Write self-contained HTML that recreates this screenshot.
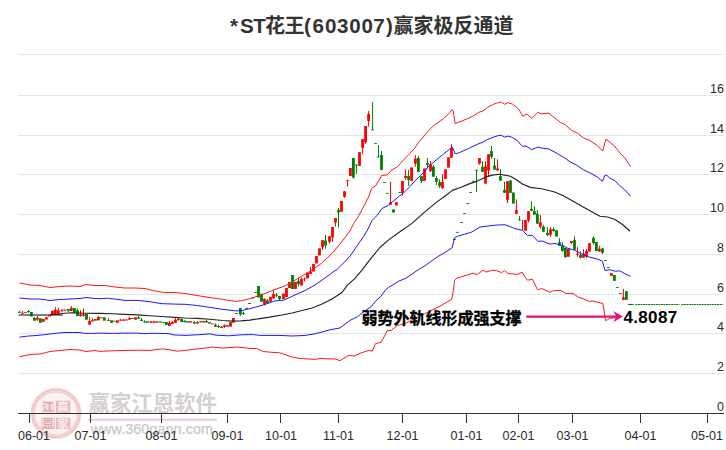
<!DOCTYPE html>
<html lang="zh-CN"><head><meta charset="utf-8"><title>*ST花王(603007)赢家极反通道</title>
<style>
html,body{margin:0;padding:0;background:#fff;}
body{width:726px;height:450px;overflow:hidden;}
svg{display:block;}
text{font-family:"Liberation Sans","Noto Sans CJK SC",sans-serif;}
.t{font-family:"Liberation Sans","Noto Sans CJK SC",sans-serif;font-weight:bold;}
</style></head><body>
<svg width="726" height="450" viewBox="0 0 726 450">
<rect width="726" height="450" fill="#fff"/>
<g stroke="#e6e6e6" stroke-width="1" shape-rendering="crispEdges">
<line x1="18" y1="54.5" x2="724" y2="54.5"/>
<line x1="18" y1="95.5" x2="724" y2="95.5"/>
<line x1="18" y1="135.5" x2="724" y2="135.5"/>
<line x1="18" y1="174.5" x2="724" y2="174.5"/>
<line x1="18" y1="214.5" x2="724" y2="214.5"/>
<line x1="18" y1="254.5" x2="724" y2="254.5"/>
<line x1="18" y1="294.5" x2="724" y2="294.5"/>
<line x1="18" y1="333.5" x2="724" y2="333.5"/>
<line x1="18" y1="373.5" x2="724" y2="373.5"/>
</g>
<g id="wm">
<circle cx="56" cy="413.4" r="21.2" fill="#fcf2f2"/>
<circle cx="56" cy="413.4" r="23.1" fill="none" stroke="#eec8c8" stroke-width="4.2"/>
<circle cx="56" cy="413.4" r="25.3" fill="none" stroke="#f6e2e2" stroke-width="0.8"/>
<circle cx="56" cy="413.4" r="22.4" fill="none" stroke="#f8e9e9" stroke-width="0.7"/>
<rect x="41.4" y="401.2" width="13.3" height="11.6" fill="#f7e0e0"/>
<rect x="56" y="400.8" width="14.3" height="12" fill="#e9b9b9"/>
<rect x="41.9" y="418.2" width="12.4" height="10.4" fill="#faeaea" stroke="#e9b9b9" stroke-width="1"/>
<rect x="56" y="417.7" width="14.3" height="11.3" fill="#e9b9b9"/>
<g font-size="11.5" font-weight="bold" text-anchor="middle">
<text x="48" y="411.4" fill="#e3a6a6">江</text>
<text x="63.1" y="411.2" fill="#fbecec">赢</text>
<text x="48" y="427.7" fill="#e3a6a6">恩</text>
<text x="63.1" y="427.6" fill="#fbecec">家</text>
</g>
<text x="88.6" y="410.6" font-size="21.4" font-weight="bold" fill="#d6cfcf">赢家江恩软件</text>
<line x1="88" y1="419.7" x2="217" y2="419.7" stroke="#e9d6d6" stroke-width="2.4"/>
<text x="90.7" y="433.8" font-size="14.3" fill="#c8c8c8" stroke="#c8c8c8" stroke-width="0.25" textLength="122.2" lengthAdjust="spacing">www.360gann.com</text>
</g>

<line x1="19.4" y1="315" x2="62" y2="315" stroke="#808080" stroke-width="2" stroke-linecap="round"/>
<g>
<rect x="18.9" y="310.8" width="1" height="2" fill="#007f00"/>
<rect x="18" y="311.8" width="2.8" height="1" fill="#007f00"/>
<rect x="22" y="311" width="1" height="2.7" fill="#ff0000"/>
<rect x="21.1" y="312.8" width="2.8" height="0.9" fill="#ff0000"/>
<rect x="24.1" y="312" width="2.8" height="0.9" fill="#ff0000"/>
<rect x="27.9" y="310" width="1" height="2.8" fill="#007f00"/>
<rect x="27" y="311" width="2.8" height="1" fill="#007f00"/>
<rect x="30" y="312" width="2.8" height="4.5" fill="#007f00"/>
<rect x="33.9" y="317" width="1" height="3.6" fill="#007f00"/>
<rect x="33" y="318" width="2.8" height="2.6" fill="#007f00"/>
<rect x="36.9" y="316" width="1" height="5" fill="#ff0000"/>
<rect x="36" y="317.8" width="2.8" height="1.8" fill="#ff0000"/>
<rect x="39" y="318.2" width="2.8" height="4.6" fill="#007f00"/>
<rect x="42" y="319" width="2.8" height="2.8" fill="#ff0000"/>
<rect x="45" y="317.2" width="2.8" height="2.4" fill="#ff0000"/>
<rect x="48" y="315" width="2.8" height="1.5" fill="#ff0000"/>
<rect x="51" y="310.7" width="2.8" height="4" fill="#ff0000"/>
<rect x="54.8" y="307" width="1" height="7.7" fill="#ff0000"/>
<rect x="53.9" y="309.7" width="2.8" height="5" fill="#ff0000"/>
<rect x="57.8" y="307.8" width="1" height="6.6" fill="#ff0000"/>
<rect x="56.9" y="310.3" width="2.8" height="4.1" fill="#ff0000"/>
<rect x="61.5" y="309" width="1" height="3.2" fill="#ff0000"/>
<rect x="60.6" y="310.3" width="2.8" height="0.9" fill="#ff0000"/>
<rect x="63.6" y="309.5" width="2.8" height="1.2" fill="#ff0000"/>
<rect x="67.8" y="309" width="1" height="3" fill="#007f00"/>
<rect x="66.9" y="309" width="2.8" height="1.7" fill="#007f00"/>
<rect x="70.8" y="306" width="1" height="5" fill="#ff0000"/>
<rect x="69.9" y="307.8" width="2.8" height="3.2" fill="#ff0000"/>
<rect x="73" y="308" width="2.8" height="4.8" fill="#007f00"/>
<rect x="77" y="308.5" width="1" height="7.5" fill="#007f00"/>
<rect x="76.1" y="310.3" width="2.8" height="5.7" fill="#007f00"/>
<rect x="80" y="310.3" width="1" height="6.2" fill="#ff0000"/>
<rect x="79.1" y="314.4" width="2.8" height="1.6" fill="#ff0000"/>
<rect x="83" y="308.5" width="1" height="8" fill="#ff0000"/>
<rect x="82.1" y="314.4" width="2.8" height="1.6" fill="#ff0000"/>
<rect x="85.1" y="314" width="2.8" height="5.7" fill="#007f00"/>
<rect x="89" y="317.2" width="1" height="7.4" fill="#ff0000"/>
<rect x="88.1" y="321" width="2.8" height="3.6" fill="#ff0000"/>
<rect x="92" y="318.2" width="1" height="3.3" fill="#ff0000"/>
<rect x="91.1" y="320.3" width="2.8" height="1.2" fill="#ff0000"/>
<rect x="94" y="319" width="2.8" height="1.7" fill="#007f00"/>
<rect x="97.9" y="316" width="1" height="4.3" fill="#ff0000"/>
<rect x="97" y="317" width="2.8" height="3.3" fill="#ff0000"/>
<rect x="100" y="317.4" width="2.8" height="1" fill="#007f00"/>
<rect x="103" y="317.4" width="2.8" height="3.3" fill="#007f00"/>
<rect x="108" y="318.2" width="1" height="2.6" fill="#ff0000"/>
<rect x="107.1" y="320" width="2.8" height="0.9" fill="#ff0000"/>
<rect x="110.1" y="320.3" width="2.8" height="2.5" fill="#007f00"/>
<rect x="113" y="320.7" width="2.8" height="0.9" fill="#007f00"/>
<rect x="116" y="320.3" width="2.8" height="2.5" fill="#ff0000"/>
<rect x="120" y="319" width="1" height="1.7" fill="#ff0000"/>
<rect x="119.1" y="319.6" width="2.8" height="1.1" fill="#ff0000"/>
<rect x="123" y="319" width="1" height="1.7" fill="#ff0000"/>
<rect x="122.1" y="319.6" width="2.8" height="1.1" fill="#ff0000"/>
<rect x="125" y="319.4" width="2.8" height="1.1" fill="#ff0000"/>
<rect x="129" y="317" width="1" height="2.7" fill="#ff0000"/>
<rect x="128.1" y="318.2" width="2.8" height="1.5" fill="#ff0000"/>
<rect x="131.1" y="318" width="2.8" height="1" fill="#007f00"/>
<rect x="134.1" y="317.2" width="2.8" height="2.5" fill="#ff0000"/>
<rect x="138" y="316" width="1" height="2.7" fill="#007f00"/>
<rect x="137.1" y="317.4" width="2.8" height="1.3" fill="#007f00"/>
<rect x="141" y="318.2" width="1" height="2.8" fill="#007f00"/>
<rect x="140.1" y="319.7" width="2.8" height="1.3" fill="#007f00"/>
<rect x="144" y="320.3" width="1" height="2.5" fill="#007f00"/>
<rect x="143.1" y="321.5" width="2.8" height="0.9" fill="#007f00"/>
<rect x="146" y="321.2" width="2.8" height="1.6" fill="#007f00"/>
<rect x="150.5" y="321" width="1" height="1.8" fill="#ff0000"/>
<rect x="149.6" y="321.5" width="2.8" height="1.3" fill="#ff0000"/>
<rect x="153.5" y="321" width="1" height="1.8" fill="#ff0000"/>
<rect x="152.6" y="321.5" width="2.8" height="1.3" fill="#ff0000"/>
<rect x="155.6" y="321.3" width="2.8" height="1.5" fill="#ff0000"/>
<rect x="158.9" y="321.3" width="2.8" height="1.2" fill="#007f00"/>
<rect x="161.9" y="322" width="2.8" height="0.9" fill="#007f00"/>
<rect x="165" y="322" width="2.8" height="2.9" fill="#007f00"/>
<rect x="168.9" y="321" width="1" height="4.9" fill="#ff0000"/>
<rect x="168" y="322.8" width="2.8" height="3.1" fill="#ff0000"/>
<rect x="171.9" y="321" width="1" height="3" fill="#ff0000"/>
<rect x="171" y="322.2" width="2.8" height="1.8" fill="#ff0000"/>
<rect x="175" y="317.2" width="1" height="5.6" fill="#ff0000"/>
<rect x="174.1" y="319.7" width="2.8" height="3.1" fill="#ff0000"/>
<rect x="178" y="317.4" width="1" height="2.9" fill="#ff0000"/>
<rect x="177.1" y="318.7" width="2.8" height="1.6" fill="#ff0000"/>
<rect x="180.2" y="319" width="2.8" height="3" fill="#007f00"/>
<rect x="184.1" y="320.3" width="1" height="1.9" fill="#007f00"/>
<rect x="183.2" y="320.8" width="2.8" height="1.4" fill="#007f00"/>
<rect x="186.1" y="321.2" width="2.8" height="1.4" fill="#007f00"/>
<rect x="189.1" y="321.1" width="2.8" height="1.5" fill="#ff0000"/>
<rect x="193.8" y="320.9" width="1" height="2.7" fill="#007f00"/>
<rect x="192.9" y="322" width="2.8" height="1.6" fill="#007f00"/>
<rect x="197" y="321.1" width="1" height="2.5" fill="#ff0000"/>
<rect x="196.1" y="322.2" width="2.8" height="1.4" fill="#ff0000"/>
<rect x="199.2" y="321.1" width="2.8" height="1.3" fill="#007f00"/>
<rect x="202.3" y="321.1" width="2.8" height="1.5" fill="#ff0000"/>
<rect x="206" y="319.9" width="1" height="2.5" fill="#007f00"/>
<rect x="205.1" y="321" width="2.8" height="1.4" fill="#007f00"/>
<rect x="208.1" y="322.1" width="2.8" height="1.5" fill="#007f00"/>
<rect x="211" y="323.4" width="2.8" height="0.9" fill="#ff0000"/>
<rect x="214.9" y="323.4" width="1" height="3.3" fill="#007f00"/>
<rect x="214" y="324.8" width="2.8" height="1.9" fill="#007f00"/>
<rect x="217.9" y="324.8" width="1" height="3.2" fill="#007f00"/>
<rect x="217" y="326" width="2.8" height="1" fill="#007f00"/>
<rect x="220.9" y="326" width="1" height="2" fill="#ff0000"/>
<rect x="220" y="326.7" width="2.8" height="1.3" fill="#ff0000"/>
<rect x="223.9" y="324.2" width="1" height="3.8" fill="#ff0000"/>
<rect x="223" y="325.5" width="2.8" height="1.5" fill="#ff0000"/>
<rect x="225.9" y="325.1" width="2.8" height="1.6" fill="#007f00"/>
<rect x="229.1" y="322.1" width="2.8" height="4.6" fill="#ff0000"/>
<rect x="232" y="318" width="2.8" height="4.7" fill="#ff0000"/>
<rect x="235" y="313" width="2.8" height="0.9" fill="#007f00"/>
<rect x="239.9" y="308" width="1" height="7.9" fill="#007f00"/>
<rect x="239" y="308" width="2.8" height="6.3" fill="#007f00"/>
<rect x="242.9" y="311.8" width="1" height="3.1" fill="#007f00"/>
<rect x="242" y="313" width="2.8" height="0.9" fill="#007f00"/>
<rect x="245.2" y="307.8" width="2.8" height="1.1" fill="#007f00"/>
<rect x="248.1" y="303" width="2.8" height="1" fill="#007f00"/>
<rect x="251.1" y="297.7" width="2.8" height="0.9" fill="#007f00"/>
<rect x="254.1" y="292" width="2.8" height="0.9" fill="#007f00"/>
<rect x="257.1" y="286" width="2.8" height="11.5" fill="#007f00"/>
<rect x="260.1" y="293.7" width="2.8" height="8.1" fill="#007f00"/>
<rect x="264" y="298.7" width="1" height="6.8" fill="#ff0000"/>
<rect x="263.1" y="298.7" width="2.8" height="5.6" fill="#ff0000"/>
<rect x="266.9" y="299" width="1" height="4" fill="#007f00"/>
<rect x="266" y="300.5" width="2.8" height="2.5" fill="#007f00"/>
<rect x="269.1" y="296.8" width="2.8" height="5" fill="#ff0000"/>
<rect x="273" y="290.3" width="1" height="8.2" fill="#ff0000"/>
<rect x="272.1" y="294" width="2.8" height="4.5" fill="#ff0000"/>
<rect x="276" y="293" width="1" height="4" fill="#007f00"/>
<rect x="275.1" y="294.7" width="2.8" height="0.9" fill="#007f00"/>
<rect x="279" y="296" width="1" height="4" fill="#007f00"/>
<rect x="278.1" y="296" width="2.8" height="3" fill="#007f00"/>
<rect x="282.1" y="293.5" width="2.8" height="5.5" fill="#ff0000"/>
<rect x="285.1" y="288" width="2.8" height="9" fill="#ff0000"/>
<rect x="288.1" y="282" width="2.8" height="6" fill="#ff0000"/>
<rect x="291.1" y="275" width="2.8" height="14" fill="#007f00"/>
<rect x="294.1" y="282" width="2.8" height="7" fill="#ff0000"/>
<rect x="298" y="277.8" width="1" height="8.7" fill="#007f00"/>
<rect x="297.1" y="280.8" width="2.8" height="3.2" fill="#007f00"/>
<rect x="301" y="277.5" width="1" height="8" fill="#ff0000"/>
<rect x="300.1" y="279" width="2.8" height="6.5" fill="#ff0000"/>
<rect x="304" y="277.5" width="1" height="4" fill="#ff0000"/>
<rect x="303.7" y="278" width="1.6" height="2" fill="#ff0000"/>
<rect x="306.1" y="272.5" width="2.8" height="6" fill="#ff0000"/>
<rect x="310" y="267" width="1" height="7" fill="#ff0000"/>
<rect x="309.1" y="271.5" width="2.8" height="2.5" fill="#ff0000"/>
<rect x="312.1" y="264" width="2.8" height="7.5" fill="#ff0000"/>
<rect x="315.1" y="256" width="2.8" height="7.5" fill="#ff0000"/>
<rect x="318.1" y="248.3" width="2.8" height="7.2" fill="#ff0000"/>
<rect x="322" y="240.2" width="1" height="9.5" fill="#ff0000"/>
<rect x="321.1" y="240.2" width="2.8" height="7.2" fill="#ff0000"/>
<rect x="325" y="235" width="1" height="13.7" fill="#007f00"/>
<rect x="324.1" y="240.6" width="2.8" height="5" fill="#007f00"/>
<rect x="329" y="236.2" width="1" height="7.2" fill="#ff0000"/>
<rect x="328.1" y="236.2" width="2.8" height="5.6" fill="#ff0000"/>
<rect x="332" y="227" width="1" height="14.8" fill="#ff0000"/>
<rect x="331.1" y="227" width="2.8" height="10.5" fill="#ff0000"/>
<rect x="335" y="218" width="1" height="8.5" fill="#ff0000"/>
<rect x="334.1" y="218" width="2.8" height="4.5" fill="#ff0000"/>
<rect x="338" y="208" width="1" height="19.5" fill="#007f00"/>
<rect x="337.1" y="210" width="2.8" height="2.5" fill="#007f00"/>
<rect x="340.1" y="201" width="2.8" height="10.8" fill="#ff0000"/>
<rect x="344" y="191.2" width="1" height="6.6" fill="#ff0000"/>
<rect x="343.1" y="191.2" width="2.8" height="5.6" fill="#ff0000"/>
<rect x="347" y="179.9" width="1" height="6.8" fill="#ff0000"/>
<rect x="346.1" y="179.9" width="2.8" height="0.9" fill="#ff0000"/>
<rect x="349" y="168" width="2.8" height="8.1" fill="#ff0000"/>
<rect x="352.9" y="158" width="1" height="20.8" fill="#007f00"/>
<rect x="352" y="158" width="2.8" height="19.4" fill="#007f00"/>
<rect x="355.9" y="164.6" width="1" height="9.3" fill="#007f00"/>
<rect x="355" y="164.6" width="2.8" height="0.9" fill="#007f00"/>
<rect x="358.1" y="152.1" width="2.8" height="13.8" fill="#ff0000"/>
<rect x="362.1" y="139.1" width="1" height="15.4" fill="#ff0000"/>
<rect x="361.2" y="139.1" width="2.8" height="8.7" fill="#ff0000"/>
<rect x="365.1" y="126" width="1" height="17.8" fill="#ff0000"/>
<rect x="364.2" y="126" width="2.8" height="16.3" fill="#ff0000"/>
<rect x="368.1" y="111" width="1" height="15.6" fill="#ff0000"/>
<rect x="367.2" y="114" width="2.8" height="7" fill="#ff0000"/>
<rect x="372.1" y="102.1" width="1" height="28" fill="#007f00"/>
<rect x="371.2" y="129.3" width="2.8" height="0.9" fill="#007f00"/>
<rect x="374.1" y="143" width="2.8" height="0.9" fill="#007f00"/>
<rect x="378" y="145" width="1" height="12.4" fill="#007f00"/>
<rect x="376.8" y="156.6" width="2.2" height="0.9" fill="#007f00"/>
<rect x="381" y="151" width="1" height="18.9" fill="#007f00"/>
<rect x="380.1" y="155" width="2.8" height="14.9" fill="#007f00"/>
<rect x="383" y="182.1" width="2.8" height="0.9" fill="#007f00"/>
<rect x="386" y="192.9" width="2.8" height="0.9" fill="#007f00"/>
<rect x="390" y="182" width="1" height="22.7" fill="#ff0000"/>
<rect x="389.1" y="202.4" width="2.8" height="2.3" fill="#ff0000"/>
<rect x="392.1" y="209.3" width="2.8" height="3.3" fill="#007f00"/>
<rect x="395" y="202.2" width="2.8" height="3.3" fill="#ff0000"/>
<rect x="398.2" y="192.1" width="2.8" height="0.9" fill="#007f00"/>
<rect x="402" y="181.1" width="1" height="14.5" fill="#ff0000"/>
<rect x="401.1" y="181.1" width="2.8" height="11.9" fill="#ff0000"/>
<rect x="405.1" y="169.3" width="1" height="10.6" fill="#ff0000"/>
<rect x="404.2" y="175.9" width="2.8" height="2.1" fill="#ff0000"/>
<rect x="408.1" y="169.9" width="1" height="16.1" fill="#007f00"/>
<rect x="407.2" y="176.1" width="2.8" height="3.8" fill="#007f00"/>
<rect x="410.2" y="167.4" width="2.8" height="13.5" fill="#ff0000"/>
<rect x="414.9" y="155" width="1" height="11.8" fill="#ff0000"/>
<rect x="414" y="158.7" width="2.8" height="5" fill="#ff0000"/>
<rect x="417.9" y="156" width="1" height="15.8" fill="#007f00"/>
<rect x="417" y="158" width="2.8" height="13.8" fill="#007f00"/>
<rect x="421" y="176.1" width="1" height="6.9" fill="#007f00"/>
<rect x="420.1" y="176.1" width="2.8" height="5" fill="#007f00"/>
<rect x="423.1" y="168.4" width="2.8" height="12.5" fill="#ff0000"/>
<rect x="427" y="158" width="1" height="10.6" fill="#007f00"/>
<rect x="426.1" y="163" width="2.8" height="1.9" fill="#007f00"/>
<rect x="430" y="161.2" width="1" height="10.6" fill="#ff0000"/>
<rect x="429.1" y="164.3" width="2.8" height="6.8" fill="#ff0000"/>
<rect x="432.9" y="164.9" width="1" height="11.8" fill="#007f00"/>
<rect x="432" y="166.8" width="2.8" height="9.9" fill="#007f00"/>
<rect x="435.9" y="176.1" width="1" height="8.7" fill="#007f00"/>
<rect x="435" y="178" width="2.8" height="3.7" fill="#007f00"/>
<rect x="439.1" y="179.2" width="1" height="8.8" fill="#007f00"/>
<rect x="438.2" y="182.3" width="2.8" height="3.8" fill="#007f00"/>
<rect x="442" y="174.2" width="1" height="14.8" fill="#ff0000"/>
<rect x="441.1" y="181.7" width="2.8" height="6.3" fill="#ff0000"/>
<rect x="444.1" y="169.3" width="2.8" height="9.6" fill="#ff0000"/>
<rect x="447.1" y="157.2" width="2.8" height="10.4" fill="#ff0000"/>
<rect x="451" y="144.1" width="1" height="13.6" fill="#ff0000"/>
<rect x="450.1" y="148.1" width="2.8" height="9.6" fill="#ff0000"/>
<rect x="453" y="238.8" width="2.8" height="1.2" fill="#007f00"/>
<rect x="456.1" y="231.9" width="2.8" height="0.9" fill="#007f00"/>
<rect x="460.1" y="222" width="2.8" height="0.9" fill="#007f00"/>
<rect x="463.2" y="213" width="2.8" height="0.9" fill="#007f00"/>
<rect x="466.3" y="203" width="2.8" height="0.9" fill="#007f00"/>
<rect x="469.2" y="192.1" width="2.8" height="0.9" fill="#007f00"/>
<rect x="472.1" y="180.8" width="2.8" height="0.9" fill="#007f00"/>
<rect x="476" y="169.8" width="1" height="21.9" fill="#007f00"/>
<rect x="475.1" y="169.8" width="2.8" height="0.9" fill="#007f00"/>
<rect x="479" y="158" width="1" height="6.7" fill="#ff0000"/>
<rect x="478.1" y="158" width="2.8" height="5.7" fill="#ff0000"/>
<rect x="482" y="161.2" width="1" height="10.6" fill="#007f00"/>
<rect x="481.1" y="166.8" width="2.8" height="5" fill="#007f00"/>
<rect x="485" y="161.2" width="1" height="22.4" fill="#ff0000"/>
<rect x="484.1" y="166.2" width="2.8" height="17.4" fill="#ff0000"/>
<rect x="488" y="154.3" width="1" height="21.8" fill="#ff0000"/>
<rect x="487.1" y="154.3" width="2.8" height="16.2" fill="#ff0000"/>
<rect x="491" y="146" width="1" height="12.7" fill="#007f00"/>
<rect x="490.1" y="151.2" width="2.8" height="5.6" fill="#007f00"/>
<rect x="494" y="158" width="1" height="11.6" fill="#007f00"/>
<rect x="493.1" y="165.5" width="2.8" height="4.1" fill="#007f00"/>
<rect x="497" y="159.3" width="1" height="11.6" fill="#ff0000"/>
<rect x="496.1" y="168.4" width="2.8" height="2" fill="#ff0000"/>
<rect x="500" y="169.3" width="1" height="11.4" fill="#007f00"/>
<rect x="499.1" y="176.1" width="2.8" height="4.6" fill="#007f00"/>
<rect x="504" y="181.8" width="1" height="11" fill="#007f00"/>
<rect x="503.1" y="189.9" width="2.8" height="2.9" fill="#007f00"/>
<rect x="507" y="181.2" width="1" height="21.8" fill="#ff0000"/>
<rect x="506.1" y="181.2" width="2.8" height="18.7" fill="#ff0000"/>
<rect x="510" y="180.2" width="1" height="12.6" fill="#007f00"/>
<rect x="509.1" y="180.6" width="2.8" height="12.2" fill="#007f00"/>
<rect x="512" y="192.4" width="2.8" height="11.2" fill="#007f00"/>
<rect x="515.9" y="199.3" width="1" height="14.5" fill="#ff0000"/>
<rect x="515" y="210.1" width="2.8" height="3.7" fill="#ff0000"/>
<rect x="519" y="216.1" width="1" height="4.4" fill="#007f00"/>
<rect x="518.1" y="219.6" width="2.8" height="0.9" fill="#007f00"/>
<rect x="522" y="219.8" width="1" height="10.6" fill="#ff0000"/>
<rect x="524.1" y="220" width="2.8" height="10.8" fill="#ff0000"/>
<rect x="528" y="211.1" width="1" height="11.2" fill="#ff0000"/>
<rect x="527.1" y="211.1" width="2.8" height="9.5" fill="#ff0000"/>
<rect x="530.9" y="201.1" width="1" height="9.7" fill="#007f00"/>
<rect x="530" y="209" width="2.8" height="1.8" fill="#007f00"/>
<rect x="533.9" y="206.1" width="1" height="8.6" fill="#007f00"/>
<rect x="533" y="211.1" width="2.8" height="3.6" fill="#007f00"/>
<rect x="536.9" y="210" width="1" height="13.7" fill="#007f00"/>
<rect x="536" y="213.8" width="2.8" height="9.9" fill="#007f00"/>
<rect x="539.9" y="215" width="1" height="13.5" fill="#ff0000"/>
<rect x="539" y="222.3" width="2.8" height="4.4" fill="#ff0000"/>
<rect x="542.9" y="224.8" width="1" height="6.9" fill="#007f00"/>
<rect x="542" y="226.7" width="2.8" height="5" fill="#007f00"/>
<rect x="546.9" y="227.3" width="1" height="8.7" fill="#007f00"/>
<rect x="546" y="232.9" width="2.8" height="2.2" fill="#007f00"/>
<rect x="550" y="227.3" width="1" height="9.3" fill="#ff0000"/>
<rect x="549.1" y="229.2" width="2.8" height="5.6" fill="#ff0000"/>
<rect x="553" y="227.3" width="1" height="4.4" fill="#007f00"/>
<rect x="552.1" y="229.2" width="2.8" height="1.8" fill="#007f00"/>
<rect x="555.1" y="230.2" width="2.8" height="6.4" fill="#007f00"/>
<rect x="559" y="238.3" width="1" height="7.3" fill="#007f00"/>
<rect x="558.1" y="242.2" width="2.8" height="3.4" fill="#007f00"/>
<rect x="561.9" y="242.2" width="1" height="9.6" fill="#007f00"/>
<rect x="561" y="245.4" width="2.8" height="5.6" fill="#007f00"/>
<rect x="564.9" y="247.9" width="1" height="9.9" fill="#007f00"/>
<rect x="564" y="247.9" width="2.8" height="9.3" fill="#007f00"/>
<rect x="567" y="248.8" width="2.8" height="8" fill="#ff0000"/>
<rect x="570.9" y="241" width="1" height="3.1" fill="#ff0000"/>
<rect x="570" y="241" width="2.8" height="2" fill="#ff0000"/>
<rect x="574" y="236.4" width="1" height="13.3" fill="#007f00"/>
<rect x="573.1" y="240.1" width="2.8" height="9.6" fill="#007f00"/>
<rect x="577" y="247.2" width="1" height="9.6" fill="#ff0000"/>
<rect x="576.1" y="253.7" width="2.8" height="1.1" fill="#ff0000"/>
<rect x="580" y="251.3" width="1" height="7.1" fill="#007f00"/>
<rect x="579.1" y="255.1" width="2.8" height="2.7" fill="#007f00"/>
<rect x="583" y="249.1" width="1" height="8.5" fill="#ff0000"/>
<rect x="582.1" y="253.5" width="2.8" height="4.1" fill="#ff0000"/>
<rect x="586" y="249.1" width="1" height="8.7" fill="#ff0000"/>
<rect x="585.1" y="251" width="2.8" height="5.6" fill="#ff0000"/>
<rect x="588.1" y="243.1" width="2.8" height="8.5" fill="#ff0000"/>
<rect x="593" y="236.4" width="1" height="8.3" fill="#007f00"/>
<rect x="592.1" y="237.9" width="2.8" height="5.2" fill="#007f00"/>
<rect x="595" y="241.9" width="2.8" height="9.1" fill="#007f00"/>
<rect x="598.9" y="246" width="1" height="5.6" fill="#ff0000"/>
<rect x="598" y="248.8" width="2.8" height="2.8" fill="#ff0000"/>
<rect x="602" y="247.6" width="1" height="6.2" fill="#007f00"/>
<rect x="601.1" y="248.5" width="2.8" height="4.3" fill="#007f00"/>
<rect x="604.2" y="260" width="2.8" height="0.9" fill="#007f00"/>
<rect x="607" y="267.1" width="2.8" height="0.9" fill="#007f00"/>
<rect x="610" y="273.1" width="2.8" height="2.8" fill="#ff0000"/>
<rect x="613" y="274.9" width="2.8" height="6" fill="#007f00"/>
<rect x="616" y="287.1" width="2.8" height="0.9" fill="#007f00"/>
<rect x="619" y="293.1" width="2.8" height="0.9" fill="#007f00"/>
<rect x="622.9" y="288.9" width="1" height="10.9" fill="#ff0000"/>
<rect x="622" y="297.3" width="2.8" height="2.5" fill="#ff0000"/>
<rect x="625" y="291.1" width="2.8" height="8.7" fill="#007f00"/>
</g>
<polyline points="19.5,283 30,285 40,285.5 50,287.5 60,286.5 70,286 80,286.5 86,284.5 95,285.5 105,285.5 115,287 125,288 135,288 145,288.5 155,291 165,292.5 175,292.5 185,293.5 197.5,295.6 209.9,297.5 222.4,299.3 229.8,300.6 236.1,301.4 242.3,300.6 249.8,298.7 257.2,296.2 264.7,293.7 275,289.4 285,286 292.5,281.7 300,277.2 307.4,272.8 314.9,268 321.1,263.6 327.3,258 333.5,251.8 338.5,245.6 344.8,238 350.5,230 353.5,223.5 358,217 362,209.5 366,202 369,196 371,190 372.5,187.5 375.5,186 378,181.7 381.7,175.5 387.3,174.9 391,170.5 397.3,166.8 403.5,159.9 409.7,153.7 414.9,147.9 418.6,142.3 426.1,133.6 432.3,126.8 434.8,124.7 443.5,118.7 449.8,112.5 452,109.8 453.1,110.6 455.2,123.4 459.9,121.8 467.4,118.7 473.6,115.9 478.6,112.4 483,110.9 487.3,107.5 493.5,104.3 498.5,102.5 501.3,102.1 504.8,104.3 507.9,102.7 512.2,104 517.2,107.5 520.3,111.8 522.8,116.4 525.9,114.3 527.5,114.7 531.8,118.4 538.1,112.1 541.2,113.9 548.7,113.1 554.9,118 560.5,122.4 565.5,124.9 571.7,130.5 577.3,133 583.5,138 589.8,140.5 597.2,145.4 602.6,151.1 605.9,139.2 610.9,143 614,145.6 617.2,149.4 620.4,153.7 624.7,157.5 630.7,166.8" fill="none" stroke="#ff1818" stroke-width="1" stroke-linejoin="round"/>
<polyline points="19.5,356.75 30,354.5 40,354 50,351.5 60,350.5 70,349.5 80,350 86,351.5 95,350.5 100,351.4 112.5,350.8 124.9,350.5 137.4,350.2 149.8,350.5 156,349.5 163.5,348.9 169.7,349.8 177.2,351.2 184.7,350.5 192,349.5 202,348.5 212,347 222,348 232,347.5 237,347 247,348 250,348.5 256.6,348.5 263.2,351.5 271.5,352.3 279.8,352.8 291.3,356.8 299.6,358.4 314.5,359.4 321.1,358.4 327.7,358.9 334.3,358.9 340.1,360.6 349.2,355.1 354.1,356.1 360.7,353.1 368.7,350.4 372.4,351.1 375.5,343.6 381.2,342.3 387.4,330.5 391.1,330.5 397.3,325.5 404.8,323.7 409.8,321.2 417.3,317.4 424.7,313.7 432.2,310 440,306.2 446.2,302.5 451.8,299.4 453.4,290.6 454.7,280.1 456.8,278.2 464.9,275.7 473,273.2 477.4,274.5 483,270.1 486.1,272 492.3,270.3 496.7,270.7 501.6,272.6 504.5,270.5 507.9,273.6 512.2,273.8 517.2,274.5 522.2,272.2 525.3,277.5 527.5,280.2 532.5,279.2 537.5,289.8 541.8,288.5 549.9,292.3 553.6,290.7 560.5,290.4 566.1,293.5 572.9,293.3 578.5,297.3 583.5,298.9 589.1,301.4 592.9,301 597.2,302.2 602.8,303.5 604.1,310.3 605.3,320.3 607.2,320 609.7,318.4 615,317.8 619,316.8" fill="none" stroke="#ff1818" stroke-width="1" stroke-linejoin="round"/>
<polyline points="19.5,298 30,299 40,299 50,300.5 60,299.5 70,299 80,298.5 86,297.5 95,298.5 100,298.7 107.5,298.2 115,299.1 125,300.4 137.4,300.4 149.8,301.6 156,302.8 162.3,303.7 174.7,304.1 185,304.3 197.5,305.5 209.9,307.4 222.4,309.3 234.8,310.8 241,310.8 247.3,309.3 254.7,307.4 262.2,305.2 269.7,302.8 275,300.9 284,300 295,295 305,290.5 315,285 325,278 333,272 337.3,269.2 344.8,261.8 351,254.9 357.2,245.6 363.4,236.8 367.5,230 372,220.5 377,215.5 382,208.5 386,206.5 388.5,205.3 393,201.2 399.5,196.1 405.4,191.2 409.7,186.7 419.7,176.1 425,171.1 427.5,167.4 434.9,161.2 442.4,154.9 449.3,149.3 452.6,147.5 453.9,150.6 455.2,153.9 459.5,152.6 463,151 468.6,148.5 476.1,144.8 483,142.1 487.3,139.6 493.5,137.1 498.5,135.5 501.3,135.3 504.8,137.1 507.9,136.1 512.2,137.3 517.2,140.5 520.3,144.2 522.8,146.3 525.9,146.1 531.8,149.6 538.1,147 542.5,148.25 548.75,148.9 557.5,153.7 564.9,158.1 570.5,162.2 576.2,164.9 583.6,169.9 591.1,173.4 597.9,177.4 602.3,181.4 604.8,175.5 606.7,175.3 609.8,178 614.8,180.5 619.7,185.5 624.7,189.8 630.7,196.3" fill="none" stroke="#1818ff" stroke-width="1" stroke-linejoin="round"/>
<polyline points="19.5,337.1 27.5,336.1 35,335.6 42.4,334.9 50,334 57.4,333.1 65,332.5 72.4,332.5 80,332.5 84.7,333.4 92.2,333.4 100,333.1 112.5,333.4 124.9,333.1 137.4,333.1 143.6,333.7 149.8,333.4 159.8,333.4 168.5,333.7 174.7,335 181,335.2 185,335.4 197.5,334.8 209.9,333.9 216.1,335.2 228.6,335.8 241,334.8 253.5,334.6 259.7,335.4 275,335.4 282,335.5 292,336 302,335.6 305,335.4 315,333.8 322,332 329.9,329.8 339.9,328 349.8,320.5 357.3,316.8 363.5,311.8 371,306.8 376,300.6 381,296.2 386,289.4 388.7,287.4 398.7,281.2 406.2,278.1 416.1,271.2 426.1,265 437.3,256.9 446,251.9 452.2,247.6 453.5,242 454.7,237.6 457.2,236.4 464.7,234.2 470.9,232.4 473,231.3 480,227 490,225.75 497.5,225 505,224.75 512.5,227.5 515,228.5 522.5,230.4 527.5,235.4 532.4,235.4 538,241.4 542.4,241 549.9,244.1 554.9,243.5 562.3,245.4 567.3,248.1 574.8,250.3 582.2,254.3 589.7,257.2 596.2,258.7 602.5,261.2 603.7,266.2 605.2,270.6 609.9,269.7 614.9,271.2 619.9,270.9 624.9,273.7 630.5,276.4" fill="none" stroke="#1818ff" stroke-width="1" stroke-linejoin="round"/>
<polyline points="49.9,314.8 58.6,314 64.8,313.2 72.3,312.8 83.5,313.2 100,313.4 112.5,313.8 124.9,314.4 137.4,314.9 149.8,315.7 162.3,316.5 174.7,317.4 185,318 197.5,318.4 209.9,319.2 222.4,320.5 232.3,321.1 241,320.9 249.8,320.1 259.7,318.6 269.7,317.1 275,316.1 282,315 292,313 302,310.5 312,308 322,304 332,299 342,292.5 347.2,285.4 354.7,278.6 362.2,269.9 369.7,259.9 380,247.5 388,240.4 399.2,232.3 411.6,223.6 422.9,213.6 435.3,203.1 445.5,195.8 452.4,190.4 461.1,187.3 469.8,183.6 477.3,181.1 484.8,177.4 492.2,175.1 499.7,174.3 510.5,176.2 516.7,180 522.9,184.3 530.4,187.4 541.6,188.7 554,191.8 562.8,195.5 572.7,201.1 582.7,206.7 590,210.75 600,216.25 607.5,217 615,219.5 622.5,224.5 630,231.25" fill="none" stroke="#222222" stroke-width="1.15" stroke-linejoin="round"/>
<g stroke="#008000" stroke-width="1.1"><line x1="628.1" y1="304.5" x2="633.6" y2="304.5"/><line x1="635.4" y1="304.5" x2="679.5" y2="304.5" stroke-dasharray="2 0.55"/><line x1="681.3" y1="304.5" x2="723" y2="304.5" stroke-dasharray="2 0.55"/></g>
<g stroke="#333" stroke-width="1" shape-rendering="crispEdges">
<line x1="18" y1="413.5" x2="724" y2="413.5"/>
<line x1="29.5" y1="413.5" x2="29.5" y2="422.5"/>
<line x1="90.5" y1="413.5" x2="90.5" y2="422.5"/>
<line x1="161.5" y1="413.5" x2="161.5" y2="422.5"/>
<line x1="227.5" y1="413.5" x2="227.5" y2="422.5"/>
<line x1="280.5" y1="413.5" x2="280.5" y2="422.5"/>
<line x1="338.5" y1="413.5" x2="338.5" y2="422.5"/>
<line x1="402.5" y1="413.5" x2="402.5" y2="422.5"/>
<line x1="466.5" y1="413.5" x2="466.5" y2="422.5"/>
<line x1="518.5" y1="413.5" x2="518.5" y2="422.5"/>
<line x1="572.5" y1="413.5" x2="572.5" y2="422.5"/>
<line x1="640.5" y1="413.5" x2="640.5" y2="422.5"/>
<line x1="707.5" y1="413.5" x2="707.5" y2="422.5"/>
</g>
<g font-size="12.5" fill="#2a2a2a" text-anchor="middle">
<text x="18" y="440" text-anchor="start">06-01</text>
<text x="90.5" y="440">07-01</text>
<text x="161.5" y="440">08-01</text>
<text x="227.5" y="440">09-01</text>
<text x="281.1" y="440">10-01</text>
<text x="338.5" y="440">11-01</text>
<text x="402.5" y="440">12-01</text>
<text x="466.5" y="440">01-01</text>
<text x="518.5" y="440">02-01</text>
<text x="572.5" y="440">03-01</text>
<text x="640.5" y="440">04-01</text>
<text x="723" y="440" text-anchor="end">05-01</text>
</g>
<g font-size="12.5" fill="#2a2a2a" text-anchor="end">
<text x="724" y="92.7">16</text>
<text x="724" y="132.7">14</text>
<text x="724" y="171.7">12</text>
<text x="724" y="211.7">10</text>
<text x="724" y="251.7">8</text>
<text x="724" y="291.7">6</text>
<text x="724" y="330.7">4</text>
<text x="724" y="370.7">2</text>
<text x="724" y="410.7">0</text>
</g>
<text class="t" x="361.5" y="324" font-size="16" fill="#000" stroke="#000" stroke-width="0.3">弱势外轨线形成强支撑</text>
<line x1="526.2" y1="316.6" x2="617" y2="316.6" stroke="#e2127c" stroke-width="2.2"/>
<polygon points="622.8,316.6 613.2,310.9 616.4,316.6 613.2,322.3" fill="#e2127c"/>
<text class="t" x="623.5" y="322.6" font-size="17" fill="#000" letter-spacing="0.33">4.8087</text>
<text class="t" y="33" font-size="20" fill="#333"><tspan x="229.94 239.88 253.2" y="32.8" font-size="20.6">*ST</tspan><tspan x="265 284.4" y="33">花王</tspan><tspan x="304.07 312.58 324.89 336.96 349.23 361.47 373.18 385.99" y="32.8" font-size="20.6">(603007)</tspan><tspan x="393.57" y="33">赢家极反通道</tspan></text>
</svg></body></html>
